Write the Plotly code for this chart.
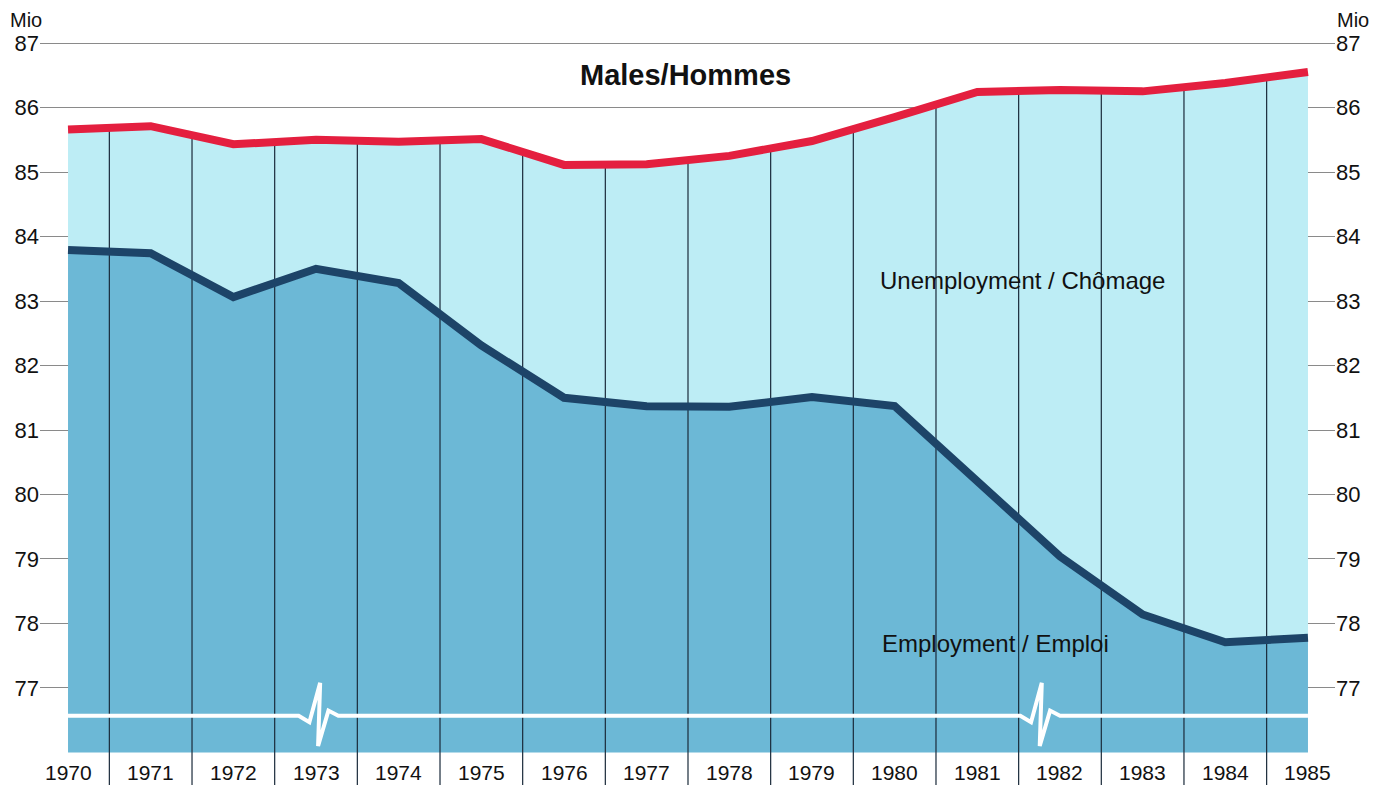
import plotly.graph_objects as go

years = list(range(1970, 1986))
year_labels = [str(y) for y in years]
labour_force = [85.66, 85.71, 85.43, 85.50, 85.47, 85.51, 85.11, 85.12, 85.25, 85.48,
                85.85, 86.24, 86.27, 86.25, 86.38, 86.55]
employment = [83.79, 83.74, 83.06, 83.50, 83.28, 82.31, 81.50, 81.37, 81.36, 81.51,
              81.37, 80.22, 79.04, 78.14, 77.71, 77.78]
y_ticks = list(range(77, 88))
base_value = 76.0
y_range = [75.496, 87.093]
x_range = [1969.661, 1985.327]

LIGHT = "#bdedf5"
DARK = "#6cb8d6"
DARK_LINE = "#1d4468"
RED = "#e41f3f"
FONT = "Liberation Sans, Arial, sans-serif"


# helpers to place decorative text by page pixel position
def px_x(px):
    return 1970 + (px - 68) / 82.67


def px_y(py):
    return 87 - (py - 43) / 64.5


def paper_x(px):
    return (px - 40) / 1295


def paper_y(py):
    return (785 - py) / 748


fig = go.Figure()

fig.add_trace(go.Scatter(x=years, y=[base_value] * len(years), mode="lines",
                         line=dict(width=0, color=DARK), showlegend=False, hoverinfo="skip"))
fig.add_trace(go.Scatter(x=years, y=employment, mode="lines", fill="tonexty",
                         fillcolor=DARK, line=dict(width=0, color=DARK), showlegend=False))
fig.add_trace(go.Scatter(x=years, y=labour_force, mode="lines", fill="tonexty",
                         fillcolor=LIGHT, line=dict(width=0, color=LIGHT), showlegend=False))

# vertical separators between years
vx, vy = [], []
for i in range(len(years) - 1):
    xm = (years[i] + years[i + 1]) / 2
    top = (labour_force[i] + labour_force[i + 1]) / 2
    vx += [xm, xm, None]
    vy += [y_range[0], top, None]
fig.add_trace(go.Scatter(x=vx, y=vy, mode="lines", line=dict(width=1.2, color="#1a2a3a"),
                         showlegend=False, hoverinfo="skip"))

# axis-break line with two spike glyphs
break_y = 76.57
spike_dx = [-0.24, -0.11, 0.02, -0.005, 0.12, 0.24]
spike_dy = [0.0, -0.10, 0.51, -0.47, 0.08, 0.0]
spike_centers = [1973.03, 1981.76]
bx = [years[0]]
by = [break_y]
for c in spike_centers:
    for dx, dy in zip(spike_dx, spike_dy):
        bx.append(c + dx)
        by.append(break_y + dy)
bx.append(years[-1])
by.append(break_y)
fig.add_trace(go.Scatter(x=bx, y=by, mode="lines", line=dict(width=4, color="white"),
                         showlegend=False, hoverinfo="skip"))

fig.add_trace(go.Scatter(x=years, y=employment, mode="lines",
                         line=dict(width=8, color=DARK_LINE), showlegend=False))
fig.add_trace(go.Scatter(x=years, y=labour_force, mode="lines",
                         line=dict(width=8, color=RED), showlegend=False))

fig.add_trace(go.Scatter(x=[years[0]], y=[y_ticks[0]], yaxis="y2", mode="markers",
                         marker=dict(opacity=0), showlegend=False, hoverinfo="skip"))

annotations = []
for y, lab in zip(years, year_labels):
    annotations.append(dict(x=y, y=px_y(773), xref="x", yref="y", text=lab, showarrow=False,
                            font=dict(size=21, color="#111"), xanchor="center",
                            yanchor="middle"))
annotations += [
    dict(x=paper_x(26), y=paper_y(20), xref="paper", yref="paper", text="Mio",
         showarrow=False, xanchor="center", yanchor="middle", borderpad=0,
         font=dict(size=20, color="#111")),
    dict(x=paper_x(1353), y=paper_y(20), xref="paper", yref="paper", text="Mio",
         showarrow=False, xanchor="center", yanchor="middle", borderpad=0,
         font=dict(size=20, color="#111")),
    dict(x=px_x(686), y=px_y(75), xref="x", yref="y", text="<b>Males/Hommes</b>",
         showarrow=False, font=dict(size=29, color="#111")),
    dict(x=px_x(1023), y=px_y(280), xref="x", yref="y", text="Unemployment / Chômage",
         showarrow=False, font=dict(size=24, color="#111")),
    dict(x=px_x(996), y=px_y(644), xref="x", yref="y", text="Employment / Emploi",
         showarrow=False, font=dict(size=24, color="#111")),
]

fig.update_layout(
    width=1379, height=781,
    margin=dict(l=32, r=52, t=29, b=4),
    paper_bgcolor="white", plot_bgcolor="white",
    font=dict(family=FONT, color="#111"),
    xaxis=dict(range=x_range, showgrid=False, zeroline=False, showticklabels=False,
               ticks="", showline=False),
    yaxis=dict(range=y_range, tickvals=y_ticks, ticktext=[str(v) for v in y_ticks],
               showgrid=True, gridcolor="#8a8a8a", gridwidth=1, zeroline=False,
               ticks="", showline=False, tickfont=dict(size=22, color="#111")),
    yaxis2=dict(range=y_range, tickvals=y_ticks, ticktext=[str(v) for v in y_ticks],
                overlaying="y", side="right", showgrid=False, zeroline=False,
                ticks="", showline=False, tickfont=dict(size=22, color="#111")),
    annotations=annotations,
    showlegend=False,
)

fig.write_html("out.html")
